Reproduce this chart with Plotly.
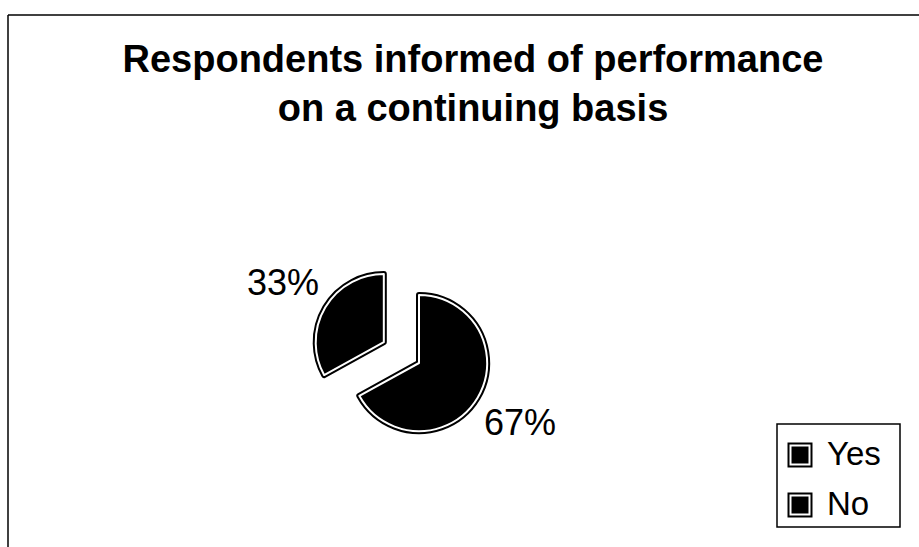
import math
import plotly.graph_objects as go

# Survey answers and their shares (percent)
answers = ["Yes", "No"]
shares = [67, 33]
explode = [0, 0.6]

title_lines = ["Respondents informed of performance", "on a continuing basis"]

W, H = 919, 547
FONT = "Liberation Sans, Arial, Helvetica, sans-serif"


def px(x):
    return x / W


def py(y):
    return 1 - y / H


# pie box centred on the unexploded slice vertex
cx, cy, box = 419, 363, 218
max_pull = max(explode)
radius = box / (2 + 2 * max_pull)
dom_x = [px(cx - box / 2), px(cx + box / 2)]
dom_y = [py(cy + box / 2), py(cy - box / 2)]

common = dict(
    labels=answers,
    values=shares,
    pull=explode,
    sort=False,
    direction="clockwise",
    rotation=0,
    domain=dict(x=dom_x, y=dom_y),
    hoverinfo="label+percent",
    showlegend=False,
)

fig = go.Figure()

# outer black rim of each slice
fig.add_trace(go.Pie(
    **common,
    marker=dict(colors=["#000000"] * len(answers), line=dict(color="#000000", width=6)),
    textinfo="none",
))

# black slices with a thin white inner outline
fig.add_trace(go.Pie(
    **common,
    marker=dict(colors=["#000000"] * len(answers), line=dict(color="#ffffff", width=2)),
    textinfo="none",
))

# percentage labels placed outside each slice along its mid-angle
annotations = []
total = sum(shares)
start = 0.0
for label, value, pull in zip(answers, shares, explode):
    frac = value / total
    mid = (start + frac / 2) * 2 * math.pi
    start += frac
    dx, dy = math.sin(mid), -math.cos(mid)
    ox = cx + pull * radius * dx
    oy = cy + pull * radius * dy
    lx = ox + 1.72 * radius * dx
    ly = oy + 1.72 * radius * dy
    annotations.append(dict(
        x=px(lx), y=py(ly), xref="paper", yref="paper",
        text=f"{round(100 * frac)}%", showarrow=False,
        xanchor="center", yanchor="middle",
        font=dict(family=FONT, size=36, color="#000000"),
    ))

# legend: framed box with double-bordered black swatches
leg_x0, leg_y0, leg_x1, leg_y1 = 777, 424, 900, 527
row_y = [455, 505]
shapes = [
    # chart frame: top and left edges
    dict(type="line", xref="paper", yref="paper",
         x0=px(8), y0=py(15), x1=1, y1=py(15),
         line=dict(color="#000000", width=1.5)),
    dict(type="line", xref="paper", yref="paper",
         x0=px(8), y0=0, x1=px(8), y1=py(15),
         line=dict(color="#000000", width=1.5)),
    dict(type="rect", xref="paper", yref="paper",
         x0=px(leg_x0), y0=py(leg_y1), x1=px(leg_x1), y1=py(leg_y0),
         line=dict(color="#000000", width=1.5), fillcolor="#ffffff"),
]
for label, yc in zip(answers, row_y):
    for half, fill in ((12.5, "#000000"), (10.5, "#ffffff"), (8.5, "#000000")):
        shapes.append(dict(
            type="rect", xref="paper", yref="paper",
            x0=px(800 - half), x1=px(800 + half),
            y0=py(yc + half), y1=py(yc - half),
            line=dict(width=0), fillcolor=fill,
        ))
    annotations.append(dict(
        x=px(825), y=py(yc - 2), xref="paper", yref="paper",
        text=label, showarrow=False, xanchor="left", yanchor="middle",
        font=dict(family=FONT, size=33, color="#000000"),
    ))

fig.update_layout(
    width=W,
    height=H,
    margin=dict(l=0, r=0, t=0, b=0),
    paper_bgcolor="#ffffff",
    plot_bgcolor="#ffffff",
    font=dict(family=FONT, color="#000000"),
    title=dict(
        text="<b>" + "<br>".join(title_lines) + "</b>",
        font=dict(family=FONT, size=38, color="#000000"),
        x=px(473),
        xanchor="center",
        xref="paper",
        y=py(72),
        yanchor="top",
        yref="paper",
    ),
    showlegend=False,
    shapes=shapes,
    annotations=annotations,
)

fig.write_html("out.html")
